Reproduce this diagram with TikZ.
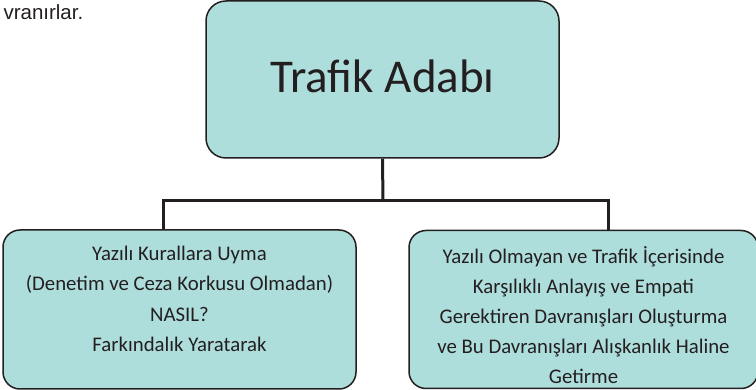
\documentclass[tikz,border=0pt]{standalone}
\usepackage{fontspec}
\setmainfont{Carlito}
\newfontfamily\pagefont{Liberation Sans}
\usetikzlibrary{positioning}
\definecolor{boxfill}{HTML}{AEDEDB}
\definecolor{boxline}{HTML}{231F20}

\begin{document}
\begin{tikzpicture}[
        x=1pt, y=-1pt,
        every node/.style={font=\fontsize{20.8}{30.5}\selectfont, text=boxline},
        box/.style={rectangle, rounded corners=17pt, draw=boxline, line width=1.5pt, fill=boxfill, align=center, inner sep=0pt},
        line/.style={draw=boxline, line width=3pt}
    ]
        \useasboundingbox (0,0) rectangle (756,390);
        \node[anchor=base west, font=\pagefont\fontsize{20.5}{24}\selectfont] (prev) at (0,19.5) {vranırlar.};
        \node[box, rounded corners=20pt, minimum width=353pt, minimum height=157pt, text depth=6pt, font=\fontsize{47}{56}\selectfont] (adab) at (382.5,79.5) {Trafik Adabı};
        \node[box, minimum width=353pt, minimum height=159pt, text depth=21pt] (yazili) at (179.5,309.5) {Yazılı Kurallara Uyma\\(Denetim ve Ceza Korkusu Olmadan)\\NASIL?\\Farkındalık Yaratarak};
        \node[box, minimum width=349pt, minimum height=158pt, text height=148pt, font=\fontsize{20.8}{30}\selectfont] (yazisiz) at (583.5,309.5) {Yazılı Olmayan ve Trafik İçerisinde\\Karşılıklı Anlayış ve Empati\\Gerektiren Davranışları Oluşturma\\ve Bu Davranışları Alışkanlık Haline\\Getirme};
        \coordinate (split) at (383,201);
        \draw[line] (adab.south) -- (split);
        \draw[line] ([xshift=-16.5pt]yazili.north) |- (split) -| ([xshift=24.5pt]yazisiz.north);
    \end{tikzpicture}
\end{document}
